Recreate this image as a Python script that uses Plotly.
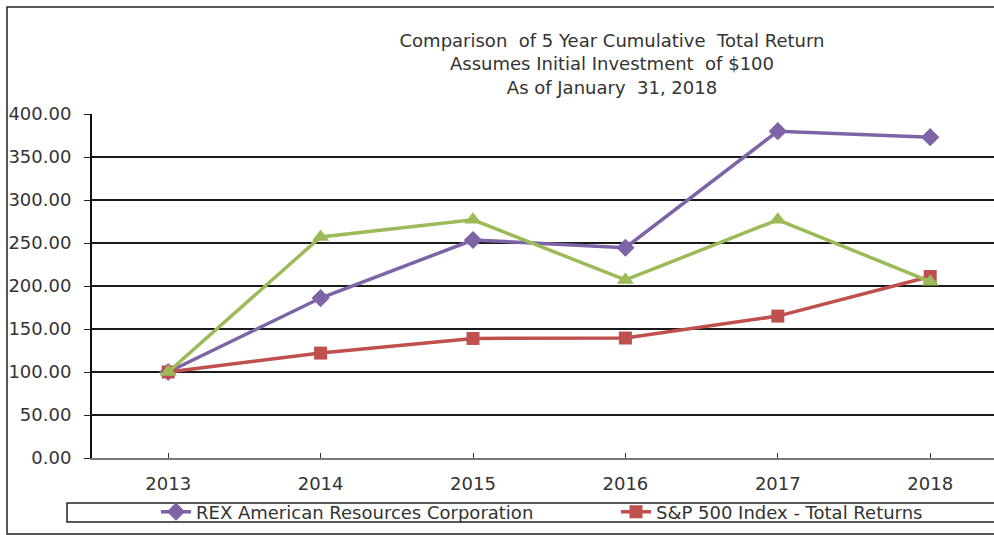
import plotly.graph_objects as go

years = ["2013", "2014", "2015", "2016", "2017", "2018"]
rex = [100.00, 186.00, 253.50, 244.50, 380.00, 373.00]
sp500 = [100.00, 122.00, 139.00, 139.50, 165.00, 211.00]
peer = [100.00, 257.00, 277.00, 207.00, 277.00, 205.00]

names = ["REX American Resources Corporation", "S&P 500 Index - Total Returns", "Peer Group"]
colors = ["#7E63A6", "#C0504D", "#9BBB59"]
symbols = ["diamond", "square", "triangle-up"]
sizes = [14, 13, 15]
series = [rex, sp500, peer]
legends = ["legend", "legend2", None]

FONT = "DejaVu Sans"
FS = 18
TXT = "#333333"

fig = go.Figure()
for name, vals, c, s, sz, lg in zip(names, series, colors, symbols, sizes, legends):
    fig.add_trace(go.Scatter(
        x=years, y=vals, name=name, mode="lines+markers",
        line=dict(color=c, width=3.5),
        marker=dict(symbol=s, size=sz, color=c),
        showlegend=lg is not None,
        legend=lg if lg else "legend",
    ))

W, H = 994, 535
L, R, T, B = 92, 0, 114, 77
pw, ph = W - L - R, H - T - B

def px(x):
    return (x - L) / pw

def py(y):
    return (H - B - y) / ph

def open_box(x0, y0, x1, y1):
    # left, top and bottom edges only; right side runs off the picture
    return (f"M {px(x1)} {py(y0)} L {px(x0)} {py(y0)} "
            f"L {px(x0)} {py(y1)} L {px(x1)} {py(y1)}")

leg_common = dict(
    orientation="h", xanchor="left", y=py(512), yanchor="middle",
    bgcolor="rgba(0,0,0,0)", borderwidth=0,
    font=dict(family=FONT, size=FS, color=TXT),
)

fig.update_layout(
    width=W, height=H,
    margin=dict(l=L, r=R, t=T, b=B),
    paper_bgcolor="white", plot_bgcolor="white",
    font=dict(family=FONT, size=FS, color=TXT),
    title=dict(
        text="Comparison  of 5 Year Cumulative  Total Return<br>Assumes Initial Investment  of $100<br>As of January  31, 2018",
        x=612 / W, xanchor="center", xref="container",
        y=1 - 47 / H, yanchor="top", yref="container",
        font=dict(family=FONT, size=FS, color=TXT),
    ),
    showlegend=True,
    legend=dict(x=px(156), **leg_common),
    legend2=dict(x=px(616), **leg_common),
    xaxis=dict(
        type="category", range=[-0.5, -0.5 + pw / 152.4],
        showgrid=False, ticks="inside", ticklen=5, tickcolor="#333333",
        showline=True, linecolor="#777777", linewidth=2,
        ticklabelstandoff=8, tickfont=dict(family=FONT, size=FS, color=TXT),
        fixedrange=True,
    ),
    yaxis=dict(
        range=[0, 400], dtick=50, tickformat=".2f",
        showgrid=True, gridcolor="#1a1a1a", gridwidth=1.5,
        ticks="outside", ticklen=6, tickcolor="#222222",
        showline=True, linecolor="#111111", linewidth=2,
        zeroline=False, ticklabelstandoff=9,
        tickfont=dict(family=FONT, size=FS, color=TXT),
        fixedrange=True,
    ),
    shapes=[
        dict(type="path", xref="paper", yref="paper",
             path=open_box(7, 534, 1000, 7),
             line=dict(color="#222222", width=1.5), layer="below"),
        dict(type="path", xref="paper", yref="paper",
             path=open_box(67, 522, 1000, 503),
             line=dict(color="#222222", width=1.5), layer="below"),
    ],
)

fig.write_html(
    "out.html",
    config={"displayModeBar": False},
    post_script="document.body.style.margin='0';document.body.style.overflow='hidden';",
)
